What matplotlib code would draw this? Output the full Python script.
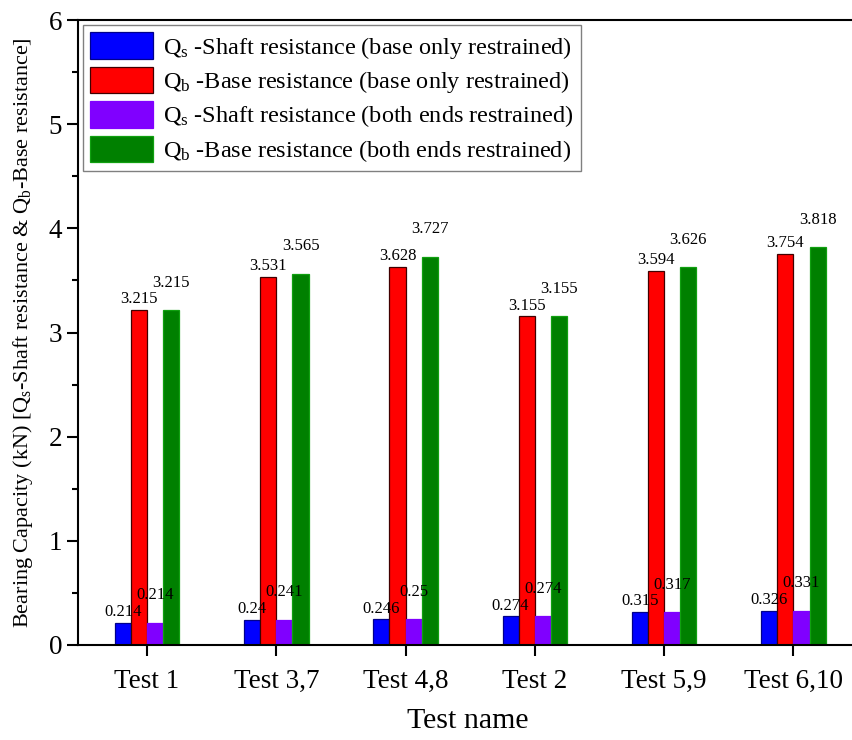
import numpy as np
import matplotlib
matplotlib.use("Agg")
import matplotlib.pyplot as plt

plt.rcParams["font.family"] = ["Liberation Serif", "DejaVu Serif"]
plt.rcParams["mathtext.fontset"] = "custom"
plt.rcParams["mathtext.rm"] = "Liberation Serif"
plt.rcParams["mathtext.it"] = "Liberation Serif:italic"

tests = ["Test 1", "Test 3,7", "Test 4,8", "Test 2", "Test 5,9", "Test 6,10"]
shaft_base_only = [0.214, 0.24, 0.246, 0.274, 0.315, 0.326]
base_base_only = [3.215, 3.531, 3.628, 3.155, 3.594, 3.754]
shaft_both_ends = [0.214, 0.241, 0.25, 0.274, 0.317, 0.331]
base_both_ends = [3.215, 3.565, 3.727, 3.155, 3.626, 3.818]

series = [
    (shaft_base_only, r"Q$_\mathregular{s}$ -Shaft resistance (base only restrained)", "#0000FF", "#00008B", 2),
    (base_base_only, r"Q$_\mathregular{b}$ -Base resistance (base only restrained)", "#FF0000", "#400000", 2),
    (shaft_both_ends, r"Q$_\mathregular{s}$ -Shaft resistance (both ends restrained)", "#8000FF", "#8000FF", 14),
    (base_both_ends, r"Q$_\mathregular{b}$ -Base resistance (both ends restrained)", "#008000", "#10A010", 14),
]

fig = plt.figure(figsize=(8.52, 7.40), dpi=100)
ax = fig.add_axes([78 / 852, 95 / 740, 780 / 852, 625 / 740])

x = np.arange(1, len(tests) + 1)
width = 0.125
offsets = (np.arange(4) - 1.5) * width

for (vals, label, fc, ec, dy), off in zip(series, offsets):
    bars = ax.bar(x + off, vals, width, color=fc, edgecolor=ec, linewidth=0.9,
                  label=label, zorder=2)
    for b, v in zip(bars, vals):
        ax.annotate(f"{v:g}", (b.get_x() + b.get_width() / 2, v),
                    xytext=(0, dy), textcoords="offset points",
                    ha="center", va="bottom", fontsize=12)

ax.set_xlim(0.466, 6.5)
ax.set_ylim(0, 6)
ax.set_xticks(x)
ax.set_xticklabels(tests)
ax.set_yticks(np.arange(0, 7, 1))
ax.set_yticks(np.arange(0.5, 6, 1), minor=True)

ax.tick_params(axis="both", which="major", direction="out", length=8, width=1.5,
               labelsize=19.5)
ax.tick_params(axis="y", which="minor", direction="out", length=4, width=1.5)
ax.tick_params(axis="x", which="major", pad=9)
for s in ax.spines.values():
    s.set_linewidth(1.5)

ax.set_xlabel("Test name", fontsize=21.5, labelpad=10)
ax.set_ylabel(r"Bearing Capacity (kN) [Q$_\mathregular{s}$-Shaft resistance & Q$_\mathregular{b}$-Base resistance]",
              fontsize=16, labelpad=10)

leg = ax.legend(loc="upper left", fontsize=17.5, frameon=True, fancybox=False,
                edgecolor="#808080", framealpha=1, handlelength=2.6, handleheight=1.3,
                handletextpad=0.4, labelspacing=0.25, borderaxespad=0.2,
                borderpad=0.3)
leg.get_frame().set_linewidth(1.0)

fig.savefig("out.png", dpi=100)
